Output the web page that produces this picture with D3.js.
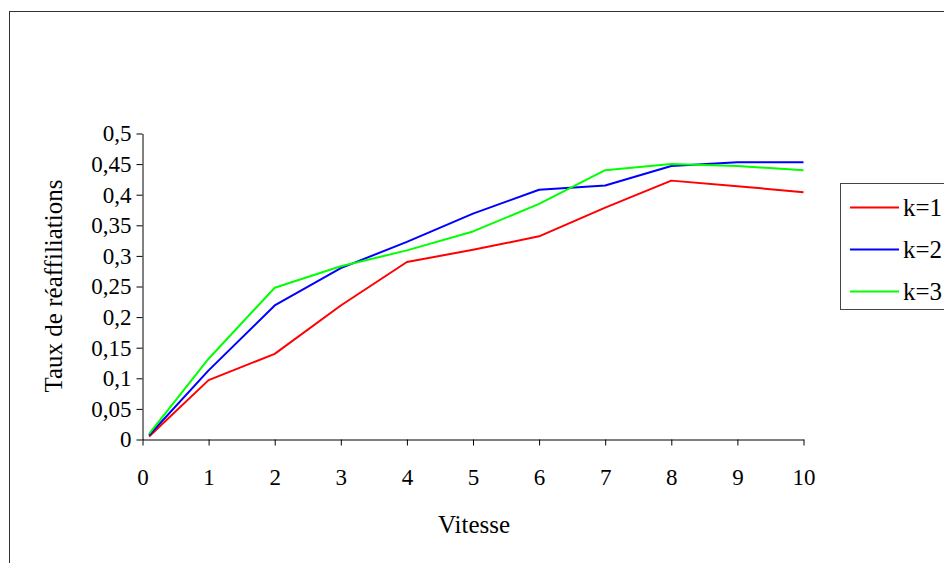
<!DOCTYPE html>
<html>
<head>
<meta charset="utf-8">
<script src="https://cdn.jsdelivr.net/npm/d3@7"></script>
<style>
  html, body { margin: 0; padding: 0; background: #fff; }
  svg { display: block; }
  text { font-family: "Liberation Serif", "DejaVu Serif", serif; fill: #000; }
</style>
</head>
<body>
<svg id="chart" width="944" height="563"></svg>
<script>
const vitesse = [0.1, 1, 2, 3, 4, 5, 6, 7, 8, 9, 10];
const k1 = [0.005, 0.097, 0.14, 0.219, 0.29, 0.31, 0.332, 0.379, 0.423, 0.414, 0.404];
const k2 = [0.007, 0.113, 0.219, 0.28, 0.323, 0.369, 0.408, 0.415, 0.447, 0.453, 0.453];
const k3 = [0.009, 0.132, 0.248, 0.283, 0.309, 0.34, 0.385, 0.44, 0.45, 0.447, 0.44];
const seriesNames = ["k=1", "k=2", "k=3"];
const seriesColors = ["#ff0000", "#0000ff", "#00ff00"];
const xTicks = [0, 1, 2, 3, 4, 5, 6, 7, 8, 9, 10];
const yTicks = [0, 0.05, 0.1, 0.15, 0.2, 0.25, 0.3, 0.35, 0.4, 0.45, 0.5];
const xTitle = "Vitesse";
const yTitle = "Taux de réaffiliations";

const series = [k1, k2, k3].map((vals, i) => ({
  name: seriesNames[i], color: seriesColors[i],
  pts: vitesse.map((x, j) => ({x, y: vals[j]}))
}));

const svg = d3.select("#chart");
const fmt = d => String(d).replace(".", ",");

// outer frame
svg.append("rect").attr("x", 9.5).attr("y", 11.5).attr("width", 960).attr("height", 600)
  .attr("fill", "none").attr("stroke", "#333").attr("stroke-width", 1);

const x = d3.scaleLinear().domain([0, 10]).range([142.5, 803.5]);
const y = d3.scaleLinear().domain([0, 0.5]).range([439.5, 133.5]);

const xAxis = svg.append("g").attr("transform", "translate(0,439.5)")
  .call(d3.axisBottom(x).tickValues(xTicks).tickFormat(d => d).tickSizeInner(6).tickSizeOuter(0).tickPadding(23));
const yAxis = svg.append("g").attr("transform", "translate(142.5,0)")
  .call(d3.axisLeft(y).tickValues(yTicks).tickFormat(fmt).tickSizeInner(6).tickSizeOuter(0).tickPadding(5));
[xAxis, yAxis].forEach(a => {
  a.selectAll("path, line").attr("stroke", "#000").attr("stroke-width", 1);
  a.selectAll("text").style("font-family", '"Liberation Serif", serif').style("font-size", "23px").attr("fill", "#000");
});

const line = d3.line().x(d => x(d.x)).y(d => y(d.y));
svg.append("g").selectAll("path").data(series).join("path")
  .attr("d", d => line(d.pts)).attr("fill", "none")
  .attr("stroke", d => d.color).attr("stroke-width", 2).attr("stroke-linejoin", "round");

svg.append("text").attr("x", 474).attr("y", 533).attr("text-anchor", "middle")
  .style("font-size", "25px").text(xTitle);
svg.append("text").attr("transform", "translate(62,286) rotate(-90)").attr("text-anchor", "middle")
  .style("font-size", "25px").text(yTitle);

// legend
const lg = svg.append("g");
lg.append("rect").attr("x", 840.5).attr("y", 183.5).attr("width", 140).attr("height", 126)
  .attr("fill", "#fff").attr("stroke", "#444").attr("stroke-width", 1);
const items = lg.selectAll("g.item").data(series).join("g").attr("class", "item")
  .attr("transform", (d, i) => `translate(0,${207.5 + i * 42})`);
items.append("line").attr("x1", 850).attr("x2", 899).attr("y1", 0).attr("y2", 0)
  .attr("stroke", d => d.color).attr("stroke-width", 2);
items.append("text").attr("x", 903).attr("y", 8.5).style("font-size", "25px").text(d => d.name);
</script>
</body>
</html>
